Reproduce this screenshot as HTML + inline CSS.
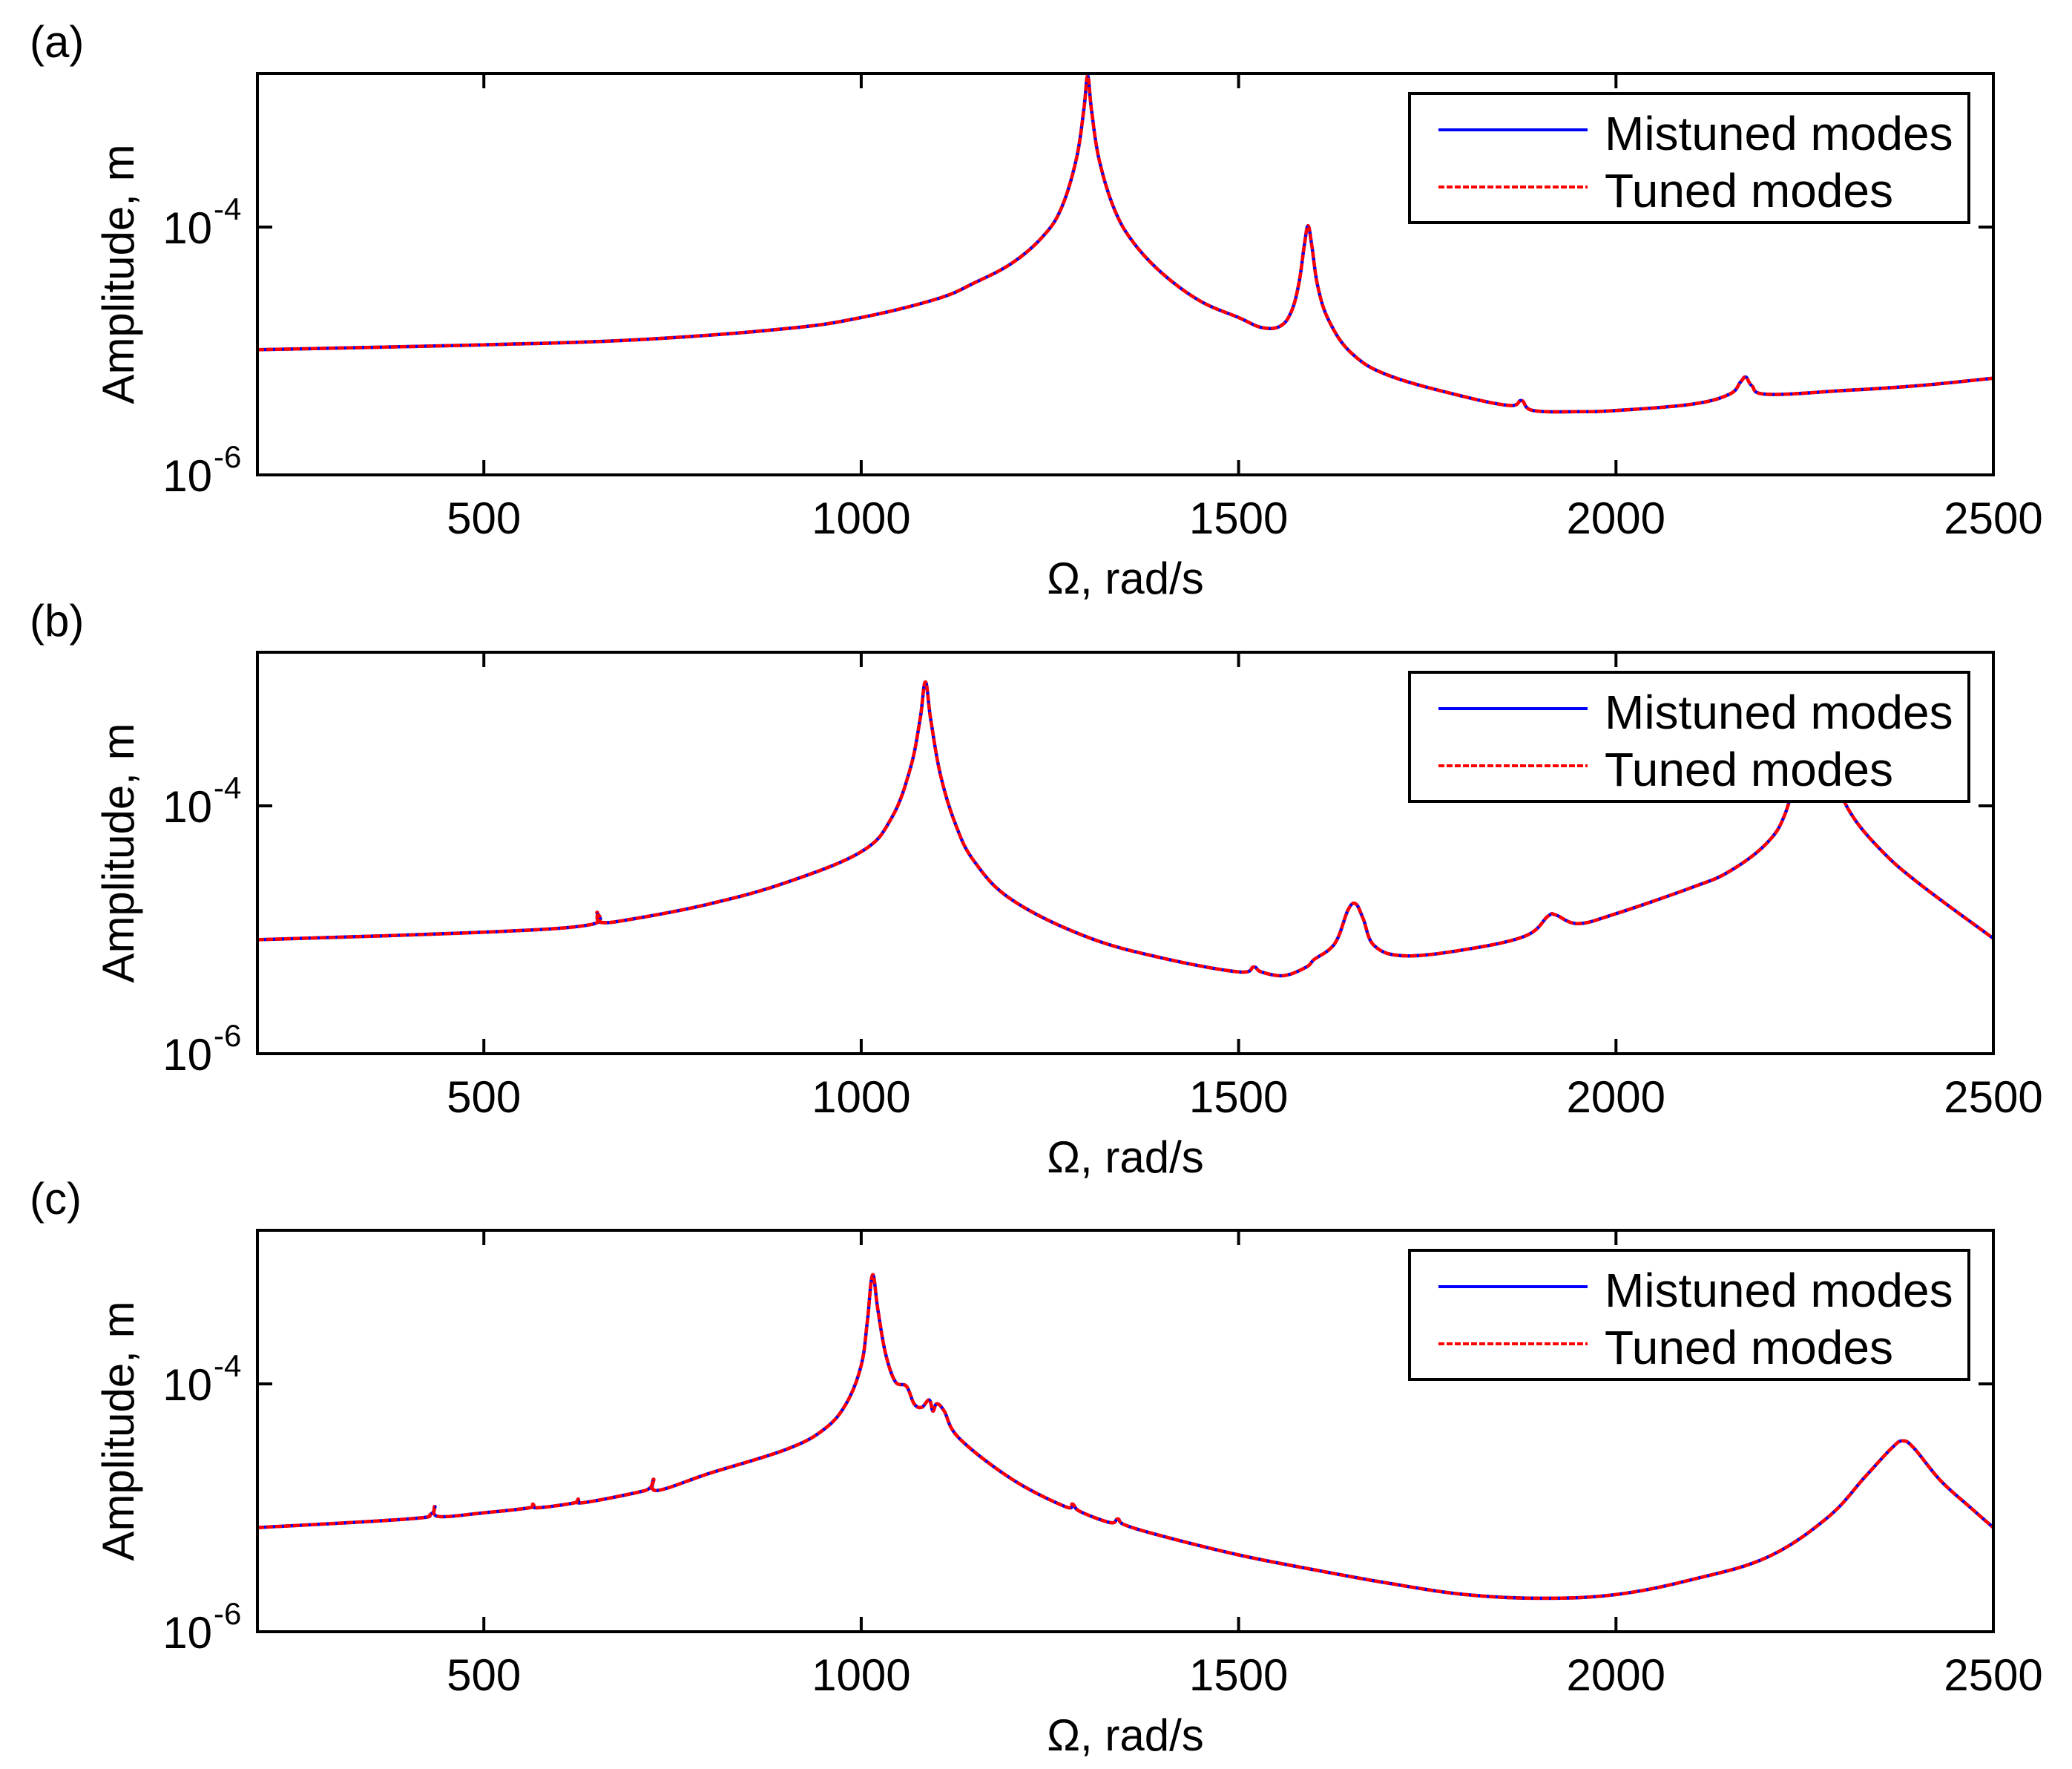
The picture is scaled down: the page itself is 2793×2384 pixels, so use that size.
<!DOCTYPE html>
<html><head><meta charset="utf-8"><style>
html,body{margin:0;padding:0;background:#fff;}
svg{display:block;font-family:"Liberation Sans",Arial,sans-serif;}
</style></head><body>
<svg id="chart" width="2793" height="2384" viewBox="0 0 2793 2384" xmlns="http://www.w3.org/2000/svg"></svg>
<script>
// ---- data (x: rad/s, values: log10 amplitude in m) ----
const xTicks = [500, 1000, 1500, 2000, 2500];
const yTicks = [-4, -6];
const panelLabels = ["(a)", "(b)", "(c)"];
const legendLabels = ["Mistuned modes", "Tuned modes"];

const omegaA = [200,500,700,900,1000,1100,1150,1200,1240,1265,1285,1295,1300,1305,1315,1335,1360,1400,1450,1500,1530,1555,1570,1580,1587,1592,1597,1605,1620,1650,1700,1800,1860,1875,1890,1950,2000,2100,2150,2165,2172,2180,2200,2300,2400,2500];
const logAmpA = [-4.99,-4.95,-4.91,-4.82,-4.73,-4.58,-4.45,-4.29,-4.08,-3.85,-3.45,-3.05,-2.78,-3.05,-3.45,-3.85,-4.12,-4.38,-4.60,-4.73,-4.81,-4.80,-4.68,-4.45,-4.15,-3.99,-4.15,-4.48,-4.76,-5.02,-5.20,-5.37,-5.44,-5.40,-5.48,-5.49,-5.48,-5.43,-5.35,-5.25,-5.21,-5.28,-5.35,-5.32,-5.28,-5.22];

const omegaB = [200,500,640,650,655,700,800,900,1000,1040,1065,1078,1085,1092,1105,1125,1150,1200,1300,1400,1500,1520,1530,1560,1590,1600,1620,1632,1645,1655,1665,1680,1720,1800,1880,1910,1920,1950,2000,2100,2150,2200,2225,2245,2265,2285,2310,2350,2400,2500];
const logAmpB = [-5.08,-5.02,-4.96,-4.86,-4.94,-4.91,-4.79,-4.62,-4.37,-4.10,-3.70,-3.30,-3.00,-3.30,-3.75,-4.15,-4.45,-4.76,-5.06,-5.23,-5.34,-5.30,-5.34,-5.37,-5.30,-5.24,-5.16,-5.06,-4.84,-4.79,-4.91,-5.13,-5.21,-5.16,-5.05,-4.89,-4.88,-4.95,-4.87,-4.66,-4.53,-4.30,-4.05,-3.60,-3.40,-3.70,-4.05,-4.35,-4.62,-5.07];

const omegaC = [200,400,430,435,440,500,560,565,570,620,625,630,700,720,725,730,800,900,950,980,1000,1008,1015,1022,1032,1045,1060,1070,1080,1090,1095,1100,1110,1130,1200,1270,1280,1290,1330,1340,1350,1400,1500,1600,1700,1800,1900,2000,2100,2200,2280,2330,2365,2380,2395,2430,2470,2500];
const logAmpC = [-5.16,-5.09,-5.05,-4.99,-5.07,-5.04,-5.00,-4.97,-5.00,-4.96,-4.93,-4.96,-4.88,-4.84,-4.77,-4.86,-4.72,-4.53,-4.37,-4.16,-3.85,-3.50,-3.12,-3.40,-3.75,-3.98,-4.02,-4.16,-4.19,-4.13,-4.22,-4.16,-4.22,-4.44,-4.77,-4.99,-4.97,-5.03,-5.12,-5.09,-5.14,-5.23,-5.38,-5.50,-5.61,-5.70,-5.73,-5.70,-5.58,-5.40,-5.08,-4.75,-4.52,-4.46,-4.52,-4.78,-5.00,-5.16];

const seriesX = [omegaA, omegaB, omegaC];
const seriesY = [logAmpA, logAmpB, logAmpC];

// ---- layout ----
const NS = "http://www.w3.org/2000/svg";
const svg = document.getElementById("chart");
const X0 = 347, X1 = 2687, XMIN = 200, XMAX = 2500;
const PH = 541, DEC = 167, OFF4 = 207;
const tops = [99, 879, 1658];
function xs(v){ return X0 + (v - XMIN) / (XMAX - XMIN) * (X1 - X0); }
function ys(top, L){ return top + OFF4 + (-4 - L) * DEC; }
function mk(tag, attrs, parent){
  const e = document.createElementNS(NS, tag);
  for (const k in attrs) e.setAttribute(k, attrs[k]);
  (parent || svg).appendChild(e);
  return e;
}
function smoothPath(P){
  let d = "M" + P[0][0].toFixed(1) + "," + P[0][1].toFixed(1);
  for (let i = 0; i < P.length - 1; i++){
    const p0 = P[Math.max(0, i - 1)], p1 = P[i], p2 = P[i + 1], p3 = P[Math.min(P.length - 1, i + 2)];
    const t = 0.18;
    const c1 = [p1[0] + (p2[0] - p0[0]) * t, p1[1] + (p2[1] - p0[1]) * t];
    const c2 = [p2[0] - (p3[0] - p1[0]) * t, p2[1] - (p3[1] - p1[1]) * t];
    d += " C" + c1[0].toFixed(1) + "," + c1[1].toFixed(1) + " " + c2[0].toFixed(1) + "," + c2[1].toFixed(1) + " " + p2[0].toFixed(1) + "," + p2[1].toFixed(1);
  }
  return d;
}

tops.forEach((top, p) => {
  const bot = top + PH;
  const g = mk("g", {});
  
  

  const lab = mk("text", {x: 40, y: top - 22, "font-size": 60, fill: "#000"}, g);
  lab.textContent = panelLabels[p];
  
  

  const clipId = "clip" + p;
  const cp = mk("clipPath", {id: clipId}, g);
  mk("rect", {x: X0, y: top, width: X1 - X0, height: PH}, cp);

  const P = seriesX[p].map((v, i) => [xs(v), ys(top, seriesY[p][i])]);
  const d = smoothPath(P);
  const blue = mk("path", {d: d, fill: "none", stroke: "#0000ff", "stroke-width": 4.5, "stroke-linejoin": "round", "clip-path": "url(#" + clipId + ")"}, g);
  
  
  const red = mk("path", {d: d, fill: "none", stroke: "#ff0000", "stroke-width": 4.5, "stroke-dasharray": "9,3", "stroke-linejoin": "round", "clip-path": "url(#" + clipId + ")"}, g);
  
  

  const box = mk("rect", {x: X0, y: top, width: X1 - X0, height: PH, fill: "none", stroke: "#000", "stroke-width": 4}, g);
  
  

  xTicks.forEach(t => {
    const x = xs(t);
    if (t < XMAX) {
      mk("line", {x1: x, y1: bot, x2: x, y2: bot - 20, stroke: "#000", "stroke-width": 4}, g);
      mk("line", {x1: x, y1: top, x2: x, y2: top + 20, stroke: "#000", "stroke-width": 4}, g);
    }
    const tl = mk("text", {x: x, y: bot + 79, "font-size": 60, "text-anchor": "middle", fill: "#000"}, g);
    tl.textContent = String(t);
    
    
  });
  yTicks.forEach(t => {
    const y = ys(top, t);
    if (y > top + 5 && y < bot - 5) {
      mk("line", {x1: X0, y1: y, x2: X0 + 20, y2: y, stroke: "#000", "stroke-width": 4}, g);
      mk("line", {x1: X1, y1: y, x2: X1 - 20, y2: y, stroke: "#000", "stroke-width": 4}, g);
    }
    const tl = mk("text", {x: 286, y: y + 22, "font-size": 60, "text-anchor": "end", fill: "#000"}, g);
    tl.textContent = "10";
    
    
    const sup = mk("text", {x: 288, y: y - 10, "font-size": 42, fill: "#000"}, g);
    sup.textContent = String(t);
    
    
  });

  const xt = mk("text", {x: (X0 + X1) / 2, y: bot + 160, "font-size": 60, "text-anchor": "middle", fill: "#000"}, g);
  xt.textContent = "Ω, rad/s";
  
  
  const cy = top + PH / 2;
  const yt = mk("text", {x: 180, y: cy, "font-size": 60, "text-anchor": "middle", fill: "#000", transform: "rotate(-90 180 " + cy + ")"}, g);
  yt.textContent = "Amplitude, m";
  
  

  const lg = mk("g", {}, g);
  
  
  mk("rect", {x: 1900, y: top + 27, width: 754, height: 174, fill: "#fff", stroke: "#000", "stroke-width": 4}, lg);
  const ly = [top + 103, top + 180];
  const l1 = mk("line", {x1: 1939, y1: ly[0] - 27, x2: 2140, y2: ly[0] - 27, stroke: "#0000ff", "stroke-width": 4}, lg);
  
  
  const l2 = mk("line", {x1: 1939, y1: ly[1] - 27, x2: 2140, y2: ly[1] - 27, stroke: "#ff0000", "stroke-width": 4, "stroke-dasharray": "8,3"}, lg);
  
  
  legendLabels.forEach((s, i) => {
    const t = mk("text", {x: 2163, y: ly[i], "font-size": 64, fill: "#000"}, lg);
    t.textContent = s;
    
    
  });
});
</script>
</body></html>
